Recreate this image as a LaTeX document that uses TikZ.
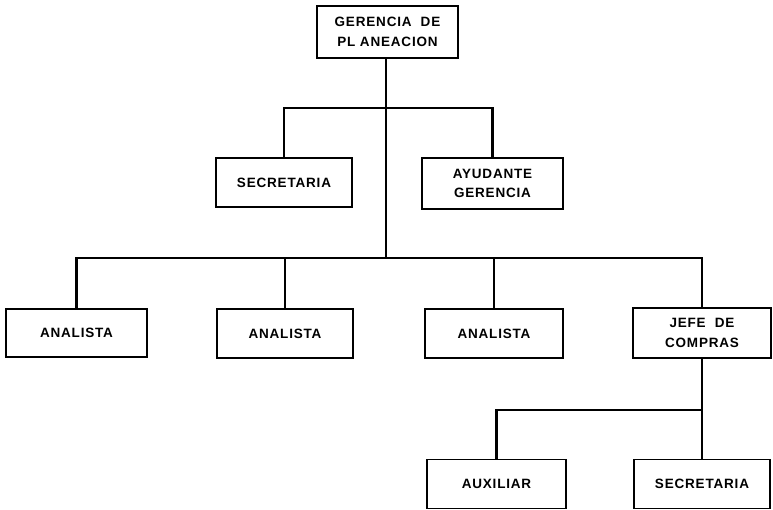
\documentclass[tikz,border=0pt]{standalone}
\usepackage{fontspec}
\setmainfont{Liberation Sans}[LetterSpace=6]
\begin{document}
\begin{tikzpicture}[x=1pt,y=-1pt,
  orgbox/.style={draw=black, line width=1.3pt, inner sep=0pt, align=center,
    font=\fontsize{13.5}{19.5}\selectfont\bfseries, minimum width=#1, minimum height=49pt},
  orgbox/.default=139pt,
  link/.style={line width=2.2pt, line cap=rect}]
\useasboundingbox (0,0) rectangle (773,510);
\node[orgbox=141pt, minimum height=52pt] (ger) at (387.5,32) {GERENCIA\ \ DE\\PL ANEACION};
\node[orgbox=136pt] (sec1) at (284,182.5) {SECRETARIA};
\node[orgbox=141pt, minimum height=51pt] (ayu) at (492.5,183.5) {AYUDANTE\\GERENCIA};
\node[orgbox=141pt, minimum height=48pt] (an1) at (76.5,333) {ANALISTA};
\node[orgbox=136pt] (an2) at (285,333.5) {ANALISTA};
\node[orgbox=138pt] (an3) at (494,333.5) {ANALISTA};
\node[orgbox=138pt, minimum height=50pt] (jefe) at (702,333) {JEFE\ \ DE\\COMPRAS};
\node[orgbox=139pt, minimum height=49pt] (aux) at (496.5,484) {AUXILIAR};
\node[orgbox=136pt, minimum height=49pt] (sec2) at (702,484) {SECRETARIA};
\coordinate (j1) at (386,108);
\coordinate (j2) at (386,258);
\coordinate (j3) at (702,410);
\draw[link] (ger.south -| j1) -- (j2);
\draw[link] (sec1.north) |- (j1) -| (ayu.north);
\draw[link] (an1.north) |- (j2) -| (jefe.north);
\draw[link] (an2.north) -- (an2.north |- j2);
\draw[link] (an3.north) -- (an3.north |- j2);
\draw[link] (jefe.south) -- (j3);
\draw[link] (aux.north) |- (j3) -- (sec2.north);
\end{tikzpicture}
\end{document}
